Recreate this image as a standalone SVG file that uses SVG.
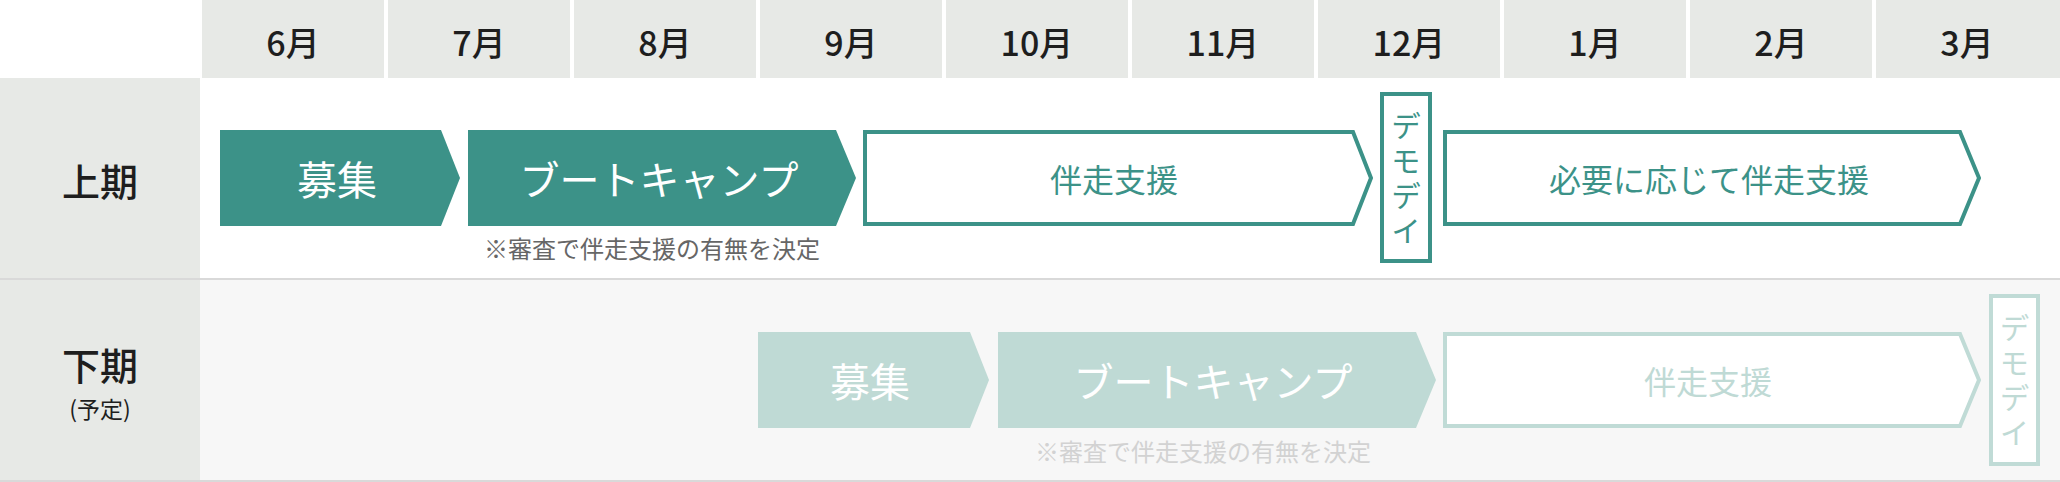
<svg xmlns="http://www.w3.org/2000/svg" width="2060" height="482" viewBox="0 0 2060 482">
<style>
text { font-family: "Noto Sans CJK JP", "Noto Sans", sans-serif; dominant-baseline: central; text-anchor: middle; }
.hdr { fill: #e7e9e6; }
.mon { font-size: 34px; font-weight: 500; fill: #1e1e1e; }
.lbl { font-size: 38px; font-weight: 500; fill: #1e1e1e; }
.sub { font-size: 23px; font-weight: 400; fill: #1e1e1e; }
.fill1 { fill: #3c9288; }
.fill2 { fill: #bfdad5; }
.out1 { fill: #ffffff; stroke: #3c9288; stroke-width: 4; }
.out2 { fill: #ffffff; stroke: #c0dbd6; stroke-width: 4; }
.wt { font-size: 40px; font-weight: 400; fill: #ffffff; }
.t1 { font-size: 32px; font-weight: 400; fill: #3c9288; }
.t2 { font-size: 32px; font-weight: 400; fill: #bfdad5; }
.vd { writing-mode: vertical-rl; font-size: 30px; font-weight: 400; letter-spacing: 5px; }
.d1 { fill: #3c9288; }
.d2 { fill: #bfdad5; }
.n1 { font-size: 24px; font-weight: 400; fill: #666666; }
.n2 { font-size: 24px; font-weight: 400; fill: #d2d2d2; }
</style>
<rect x="0" y="0" width="2060" height="482" fill="#ffffff"/>
<g id="header">
<rect class="hdr" x="202" y="0" width="182" height="78"/>
<rect class="hdr" x="388" y="0" width="182" height="78"/>
<rect class="hdr" x="574" y="0" width="182" height="78"/>
<rect class="hdr" x="760" y="0" width="182" height="78"/>
<rect class="hdr" x="946" y="0" width="182" height="78"/>
<rect class="hdr" x="1132" y="0" width="182" height="78"/>
<rect class="hdr" x="1318" y="0" width="182" height="78"/>
<rect class="hdr" x="1504" y="0" width="182" height="78"/>
<rect class="hdr" x="1690" y="0" width="182" height="78"/>
<rect class="hdr" x="1876" y="0" width="184" height="78"/>
<text class="mon" x="293" y="41">6月</text>
<text class="mon" x="479" y="41">7月</text>
<text class="mon" x="665" y="41">8月</text>
<text class="mon" x="851" y="41">9月</text>
<text class="mon" x="1037" y="41">10月</text>
<text class="mon" x="1223" y="41">11月</text>
<text class="mon" x="1409" y="41">12月</text>
<text class="mon" x="1595" y="41">1月</text>
<text class="mon" x="1781" y="41">2月</text>
<text class="mon" x="1967" y="41">3月</text>
</g>
<g id="rows">
<rect x="0" y="78" width="200" height="200" fill="#e7e9e6"/>
<rect x="0" y="280" width="200" height="200" fill="#e7e9e6"/>
<rect x="200" y="280" width="1860" height="200" fill="#f7f7f7"/>
<rect x="0" y="278" width="2060" height="2" fill="#d9d9d9"/>
<rect x="0" y="480" width="2060" height="2" fill="#d9d9d9"/>
<text class="lbl" x="100" y="179">上期</text>
<text class="lbl" x="100" y="363">下期</text>
<text class="sub" x="100" y="408">(予定)</text>
</g>
<g id="connectors"/>
<g id="h1-boshu">
<polygon class="fill1" points="220,130 441,130 460,178 441,226 220,226"/>
<text class="wt" x="337" y="178">募集</text>
</g>
<g id="h1-bootcamp">
<polygon class="fill1" points="468,130 836,130 856,178 836,226 468,226"/>
<text class="wt" x="659" y="178">ブートキャンプ</text>
<text class="n1" x="652" y="247">※審査で伴走支援の有無を決定</text>
</g>
<g id="h1-support">
<polygon class="out1" points="865,132 1353,132 1371,178 1353,224 865,224"/>
<text class="t1" x="1114" y="178">伴走支援</text>
</g>
<g id="h1-demoday">
<rect class="out1" x="1382" y="94" width="48" height="167"/>
<text class="vd d1" x="1406" y="181">デモデイ</text>
</g>
<g id="h1-optional-support">
<polygon class="out1" points="1445,132 1960,132 1979,178 1960,224 1445,224"/>
<text class="t1" x="1709" y="178">必要に応じて伴走支援</text>
</g>
<g id="h2-boshu">
<polygon class="fill2" points="758,332 970,332 989,380 970,428 758,428"/>
<text class="wt" x="870" y="380">募集</text>
</g>
<g id="h2-bootcamp">
<polygon class="fill2" points="998,332 1416,332 1436,380 1416,428 998,428"/>
<text class="wt" x="1213" y="380">ブートキャンプ</text>
<text class="n2" x="1203" y="450">※審査で伴走支援の有無を決定</text>
</g>
<g id="h2-support">
<polygon class="out2" points="1445,334 1960,334 1979,380 1960,426 1445,426"/>
<text class="t2" x="1708" y="380">伴走支援</text>
</g>
<g id="h2-demoday">
<rect class="out2" x="1991" y="296" width="47" height="168"/>
<text class="vd d2" x="2014.5" y="383">デモデイ</text>
</g>
</svg>
